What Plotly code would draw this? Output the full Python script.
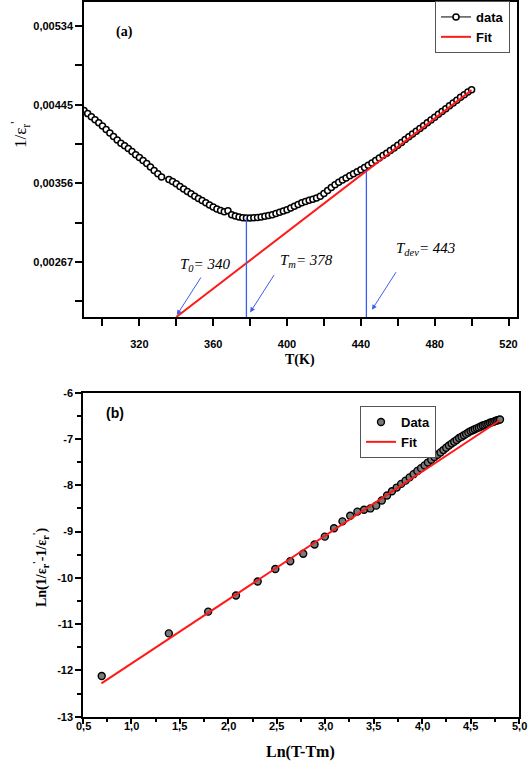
import plotly.graph_objects as go

W, H = 529, 771

# ---------------- Panel (a) data ----------------
a_T = [290, 292, 294, 296, 298, 300, 302, 304, 306, 308, 310, 312, 314, 316, 318, 320,
       322, 324, 326, 328, 330, 332,
       336, 338, 340, 342, 344, 346, 348, 350, 352, 354, 356, 358, 360, 362, 364, 366,
       368, 370, 372, 374, 376, 378, 380, 382, 384, 386, 388, 390, 392, 394, 396, 398,
       400, 402, 404, 406, 408, 410, 412, 414, 416, 418, 420, 422, 424, 426, 428, 430,
       432, 434, 436, 438, 440, 442, 444, 446, 448, 450, 452, 454, 456, 458, 460, 462,
       464, 466, 468, 470, 472, 474, 476, 478, 480, 482, 484, 486, 488, 490, 492, 494,
       496, 498, 500]
a_inv_eps = [0.004385, 0.004350, 0.004315, 0.004280, 0.004245, 0.004208, 0.004170, 0.004130,
             0.004090, 0.004050, 0.004015, 0.003985, 0.003955, 0.003920, 0.003885, 0.003852,
             0.003820, 0.003785, 0.003745, 0.003705, 0.003668, 0.003632,
             0.003605, 0.003580, 0.003555, 0.003525, 0.003495, 0.003468, 0.003442, 0.003415,
             0.003390, 0.003365, 0.003340, 0.003315, 0.003292, 0.003270, 0.003252, 0.003240,
             0.003250, 0.003205, 0.003190, 0.003180, 0.003172, 0.003168, 0.003168, 0.003170,
             0.003174, 0.003180, 0.003187, 0.003196, 0.003206, 0.003218, 0.003232, 0.003246,
             0.003262, 0.003280, 0.003300, 0.003322, 0.003340, 0.003355, 0.003368, 0.003380,
             0.003395, 0.003415, 0.003445, 0.003478, 0.003512, 0.003545, 0.003572, 0.003598,
             0.003622, 0.003645, 0.003668, 0.003692, 0.003715, 0.003740, 0.003764, 0.003790,
             0.003818, 0.003846, 0.003874, 0.003902, 0.003931, 0.003960, 0.003990, 0.004022,
             0.004055, 0.004087, 0.004118, 0.004150, 0.004181, 0.004213, 0.004245, 0.004277,
             0.004309, 0.004341, 0.004373, 0.004405, 0.004437, 0.004469, 0.004501, 0.004533,
             0.004564, 0.004594, 0.004620]
a_fit_T = [340, 500]
a_fit_val = [0.002048, 0.004615]
T0, Tm, Tdev = 340, 378, 443
a_xticks = [320, 360, 400, 440, 480, 520]
a_xminor = [300, 340, 380, 420, 460, 500]
a_yticks = [0.00267, 0.00356, 0.00445, 0.00534]
a_ytick_text = ["0,00267", "0,00356", "0,00445", "0,00534"]
a_yminor = [0.002225, 0.003115, 0.004005, 0.004895]
a_xrange = [290, 524.6]
a_yrange = [0.002048, 0.005612]

# ---------------- Panel (b) data ----------------
b_ln_dT = [0.693, 1.386, 1.792, 2.079, 2.303, 2.485, 2.639, 2.773, 2.890, 2.996,
           3.091, 3.178, 3.258, 3.332, 3.401, 3.466, 3.526, 3.584, 3.638, 3.689,
           3.738, 3.784, 3.829, 3.871, 3.912, 3.951, 3.989, 4.025, 4.060, 4.094,
           4.127, 4.159, 4.190, 4.220, 4.248, 4.277, 4.304, 4.331, 4.357, 4.382,
           4.407, 4.431, 4.454, 4.477, 4.500, 4.522, 4.543, 4.564, 4.585, 4.605,
           4.625, 4.644, 4.663, 4.682, 4.700, 4.718, 4.736, 4.754, 4.771, 4.787, 4.804]
b_ln_diff = [-12.12, -11.20, -10.73, -10.38, -10.08, -9.81, -9.64, -9.48, -9.28, -9.11,
             -8.93, -8.78, -8.66, -8.57, -8.53, -8.50, -8.44, -8.33, -8.22, -8.13,
             -8.05, -7.97, -7.90, -7.83, -7.76, -7.69, -7.63, -7.57, -7.51, -7.45,
             -7.39, -7.34, -7.29, -7.24, -7.19, -7.14, -7.10, -7.06, -7.02, -6.98,
             -6.95, -6.92, -6.89, -6.86, -6.83, -6.81, -6.79, -6.77, -6.75, -6.73,
             -6.71, -6.70, -6.68, -6.67, -6.65, -6.64, -6.63, -6.61, -6.60, -6.59, -6.58]
b_fit_x = [0.69, 4.80]
b_fit_y = [-12.28, -6.60]
b_xticks = [0.5, 1.0, 1.5, 2.0, 2.5, 3.0, 3.5, 4.0, 4.5, 5.0]
b_xtick_text = ["0,5", "1,0", "1,5", "2,0", "2,5", "3,0", "3,5", "4,0", "4,5", "5,0"]
b_xminor = [0.75, 1.25, 1.75, 2.25, 2.75, 3.25, 3.75, 4.25, 4.75]
b_yticks = [-13, -12, -11, -10, -9, -8, -7, -6]
b_ytick_text = ["-13", "-12", "-11", "-10", "-9", "-8", "-7", "-6"]
b_yminor = [-12.5, -11.5, -10.5, -9.5, -8.5, -7.5, -6.5]

BLUE = "#3a5ff0"
RED = "#ff1a1a"
SANS = "Liberation Sans"
SERIF = "Liberation Serif"


def px_x(p):
    return p / W


def px_y(p):
    return 1 - p / H


fig = go.Figure()

fig.add_trace(go.Scatter(
    x=a_T, y=a_inv_eps, mode="lines+markers", name="data",
    line=dict(color="black", width=1),
    marker=dict(symbol="circle", size=6, color="white",
                line=dict(color="black", width=1.5)),
    xaxis="x", yaxis="y", legend="legend"))
fig.add_trace(go.Scatter(
    x=a_fit_T, y=a_fit_val, mode="lines", name="Fit",
    line=dict(color=RED, width=2), xaxis="x", yaxis="y", legend="legend"))

fig.add_trace(go.Scatter(
    x=b_ln_dT, y=b_ln_diff, mode="markers", name="Data",
    marker=dict(symbol="circle", size=7, color="#7a7a7a",
                line=dict(color="black", width=1.4)),
    xaxis="x2", yaxis="y2", legend="legend2"))
fig.add_trace(go.Scatter(
    x=b_fit_x, y=b_fit_y, mode="lines", name="Fit",
    line=dict(color=RED, width=2), xaxis="x2", yaxis="y2", legend="legend2"))

tickfont = dict(family=SANS, size=11, color="black", weight="bold")
axis_common = dict(showline=True, linecolor="black", linewidth=1.5, mirror=True,
                   ticks="outside", tickwidth=1.5, tickcolor="black",
                   showgrid=False, zeroline=False, tickfont=tickfont,
                   automargin=False)

fig.update_layout(
    width=W, height=H,
    margin=dict(l=0, r=0, t=0, b=0, pad=0, autoexpand=False),
    paper_bgcolor="white", plot_bgcolor="white",
    separators=", ",
    xaxis=dict(domain=[px_x(84), px_x(517)], range=a_xrange, anchor="y",
               tickmode="array", tickvals=a_xticks, ticklen=7, ticklabelstandoff=9,
               minor=dict(tickmode="array", tickvals=a_xminor, ticklen=7,
                          tickwidth=1.5, tickcolor="black", ticks="outside"),
               **axis_common),
    yaxis=dict(domain=[px_y(317), px_y(2)], range=a_yrange, anchor="x",
               tickmode="array", tickvals=a_yticks, ticktext=a_ytick_text, ticklen=7,
               minor=dict(tickmode="array", tickvals=a_yminor, ticklen=7,
                          tickwidth=1.5, tickcolor="black", ticks="outside"),
               **axis_common),
    xaxis2=dict(domain=[px_x(83), px_x(519)], range=[0.5, 5.0], anchor="y2",
                tickmode="array", tickvals=b_xticks, showticklabels=False,
                ticklen=6,
                minor=dict(tickmode="array", tickvals=b_xminor, ticklen=4,
                           tickwidth=1.5, tickcolor="black", ticks="outside"),
                **axis_common),
    yaxis2=dict(domain=[px_y(716.7), px_y(392.7)], range=[-13, -6], anchor="x2",
                tickmode="array", tickvals=b_yticks, ticktext=b_ytick_text, ticklen=6,
                minor=dict(tickmode="array", tickvals=b_yminor, ticklen=4,
                           tickwidth=1.5, tickcolor="black", ticks="outside"),
                **axis_common),
    legend=dict(x=px_x(435), y=px_y(1), xanchor="left", yanchor="top",
                bordercolor="#555", borderwidth=1, bgcolor="white",
                font=dict(family=SANS, size=13, color="black", weight="bold"),
                itemwidth=30, tracegroupgap=0),
    legend2=dict(x=px_x(360), y=px_y(406), xanchor="left", yanchor="top",
                 bordercolor="#555", borderwidth=1, bgcolor="white",
                 font=dict(family=SANS, size=13, color="black", weight="bold"),
                 itemwidth=30, tracegroupgap=0),
    showlegend=True,
)

# bottom-panel x tick labels, placed close under the axis as in the original
for v, t in zip(b_xticks, b_xtick_text):
    fig.add_annotation(x=v, y=px_y(726), xref="x2", yref="paper", text=t,
                       showarrow=False, xanchor="center", yanchor="middle",
                       borderpad=0, font=tickfont)

# vertical marker lines in panel (a)
tm_top = a_inv_eps[a_T.index(Tm)]
slope = (a_fit_val[1] - a_fit_val[0]) / (a_fit_T[1] - a_fit_T[0])
tdev_top = a_fit_val[0] + slope * (Tdev - a_fit_T[0])
for tx, top in [(Tm, tm_top), (Tdev, tdev_top)]:
    fig.add_shape(type="line", xref="x", yref="y", x0=tx, x1=tx,
                  y0=a_yrange[0], y1=top, line=dict(color=BLUE, width=1.3))

# arrows
for head_x, head_y in [(T0 + 0.3, 0.00207), (Tm + 2, 0.00210), (Tdev + 3, 0.00213)]:
    fig.add_annotation(x=head_x, y=head_y, xref="x", yref="y", text="",
                       showarrow=True, ax=25, ay=-39, arrowcolor=BLUE,
                       arrowwidth=1, arrowhead=2, arrowsize=1)

anno_font = dict(family=SERIF, size=15, color="black", style="italic")
for txt, tx, ty in [("T<sub>0</sub>= 340", 341, 0.002636),
                    ("T<sub>m</sub>= 378", 395, 0.002681),
                    ("T<sub>dev</sub>= 443", 458, 0.002817)]:
    fig.add_annotation(x=tx, y=ty, xref="x", yref="y", text=txt, showarrow=False,
                       xanchor="left", yanchor="middle", font=anno_font)


def paper_text(px, py, text, font, angle=0):
    fig.add_annotation(x=px_x(px), y=px_y(py), xref="paper", yref="paper", text=text,
                       showarrow=False, xanchor="center", yanchor="middle",
                       textangle=angle, font=font)


# panel labels and axis titles
paper_text(124, 32, "(a)", dict(family=SERIF, size=14, color="black", weight="bold"))
paper_text(115, 413, "(b)", dict(family=SANS, size=14, color="black", weight="bold"))
paper_text(20, 135, "1/ε<sub>r</sub><sup>'</sup>",
           dict(family=SERIF, size=17, color="black"), angle=-90)
paper_text(300, 360, "T(K)", dict(family=SERIF, size=14, color="black", weight="bold"))
paper_text(41, 568, "Ln(1/ε<sub>r</sub><sup>'</sup>-1/ε<sub>r</sub><sup>'</sup>)",
           dict(family=SERIF, size=14, color="black", weight="bold"), angle=-90)
paper_text(300, 752, "Ln(T-Tm)", dict(family=SERIF, size=16, color="black", weight="bold"))

fig.write_html("out.html",
               config={"displayModeBar": False},
               post_script="document.body.style.margin='0px';"
                           "document.body.style.overflow='hidden';")
